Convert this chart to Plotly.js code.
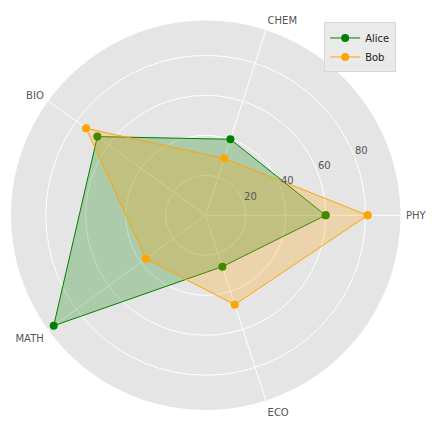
<!DOCTYPE html>
<html>
<head>
<meta charset="utf-8">
<script src="https://cdn.plot.ly/plotly-3.0.1.min.js"></script>
<style>html,body{margin:0;padding:0;background:#fff;}#chart{width:432px;height:432px;}</style>
</head>
<body>
<div id="chart"></div>
<script>
const categories = ['PHY', 'CHEM', 'BIO', 'MATH', 'ECO'];
const alice = [60, 40, 67, 94, 27];
const bob = [81, 30, 74, 37, 47];
const radialTicks = [20, 40, 60, 80];
const radialRange = [0, 97.4];

function closed(arr) { return arr.concat([arr[0]]); }

function series(name, values, color, fill) {
  return [
    {
      type: 'scatterpolar', name: name, showlegend: false, hoverinfo: 'skip',
      r: closed(values), theta: closed(categories),
      mode: 'none', fill: 'toself', fillcolor: fill
    },
    {
      type: 'scatterpolar', name: name,
      r: closed(values), theta: closed(categories),
      mode: 'lines+markers',
      line: {color: color, width: 1},
      marker: {color: color, size: 8}
    }
  ];
}

const traces = [].concat(
  series('Alice', alice, '#008000', 'rgba(0,128,0,0.25)'),
  series('Bob', bob, '#FFA500', 'rgba(255,165,0,0.25)'),
  [{
    // carrier for the radial tick-label axis (no marks)
    type: 'scatterpolar', subplot: 'polar2', showlegend: false, hoverinfo: 'skip',
    r: [], theta: [], mode: 'markers'
  }]
);

const tickFont = {family: 'DejaVu Sans', size: 10, color: '#555555'};

const layout = {
  width: 432, height: 432,
  margin: {l: 0, r: 0, t: 0, b: 0},
  paper_bgcolor: '#ffffff',
  font: {family: 'DejaVu Sans', size: 10, color: '#555555'},
  showlegend: true,
  legend: {
    x: 0.917, y: 0.948, xanchor: 'right', yanchor: 'top',
    bgcolor: '#EAEAEA', bordercolor: '#D8D8D8', borderwidth: 1,
    itemwidth: 30,
    font: {family: 'DejaVu Sans', size: 10, color: '#222222'}
  },
  polar: {
    domain: {x: [0.0255, 0.9269], y: [0.0509, 0.9523]},
    bgcolor: '#E5E5E5',
    radialaxis: {
      range: radialRange, tickvals: radialTicks,
      angle: 22.5, showticklabels: false,
      showline: false, ticks: '', gridcolor: '#FFFFFF', gridwidth: 1
    },
    angularaxis: {
      type: 'category', categoryarray: categories,
      rotation: 0, direction: 'counterclockwise',
      showline: false, ticks: 'outside', ticklen: 3, tickcolor: 'rgba(0,0,0,0)',
      gridcolor: '#FFFFFF', gridwidth: 1,
      tickfont: tickFont
    }
  },
  polar2: {
    domain: {x: [0.0649, 0.9663], y: [0.0474, 0.9488]},
    bgcolor: 'rgba(0,0,0,0)',
    radialaxis: {
      range: radialRange, tickvals: radialTicks, ticktext: radialTicks.map(String),
      angle: 22.5, side: 'counterclockwise', tickangle: 22.5,
      showline: false, showgrid: false, ticks: '',
      tickfont: tickFont
    },
    angularaxis: {
      type: 'category', categoryarray: categories,
      rotation: 0, direction: 'counterclockwise',
      visible: false, showgrid: false, showline: false, showticklabels: false, ticks: ''
    }
  }
};

Plotly.newPlot('chart', traces, layout, {displayModeBar: false, staticPlot: true});
</script>
</body>
</html>
